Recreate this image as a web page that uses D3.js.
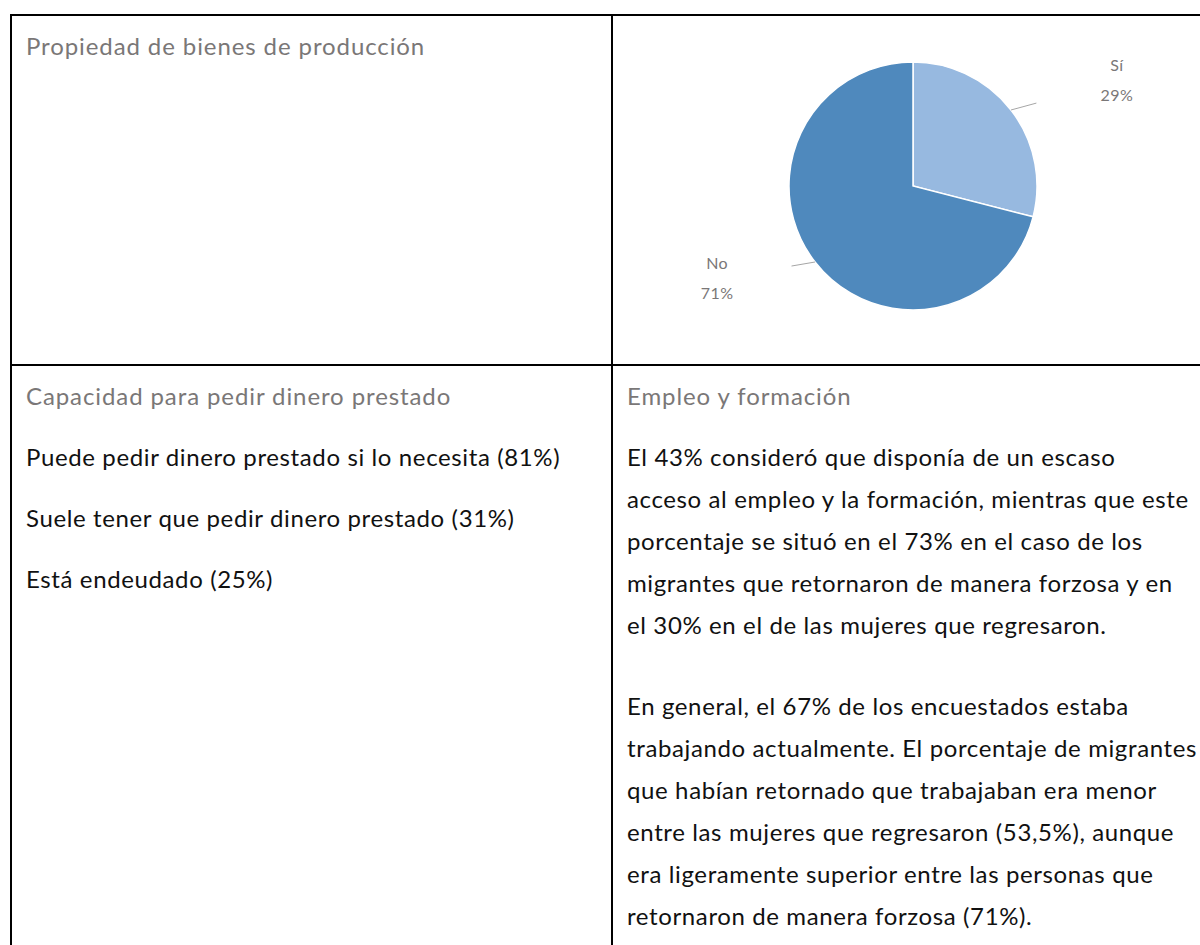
<!DOCTYPE html>
<html>
<head>
<meta charset="utf-8">
<script src="https://cdn.jsdelivr.net/npm/d3@7"></script>
<style>
  html, body { margin: 0; padding: 0; background: #fff; }
  svg { display: block; }
  text { font-family: Lato, "Open Sans", sans-serif; }
</style>
</head>
<body>
<div id="chart"></div>
<script>
// ---- Data
const pieLabels = ['Sí', 'No'];
const pieValues = [29, 71];
const pieColors = ['#97b9e0', '#4f89bd'];

const cellTitles = [
  'Propiedad de bienes de producción',
  'Capacidad para pedir dinero prestado',
  'Empleo y formación'
];

// each entry is a paragraph, each paragraph a list of lines
const borrowParagraphs = [
  ['Puede pedir dinero prestado si lo necesita (81%)'],
  ['Suele tener que pedir dinero prestado (31%)'],
  ['Está endeudado (25%)']
];

const employmentParagraphs = [
  [
    'El 43% consideró que disponía de un escaso',
    'acceso al empleo y la formación, mientras que este',
    'porcentaje se situó en el 73% en el caso de los',
    'migrantes que retornaron de manera forzosa y en',
    'el 30% en el de las mujeres que regresaron.'
  ],
  [
    'En general, el 67% de los encuestados estaba',
    'trabajando actualmente. El porcentaje de migrantes',
    'que habían retornado que trabajaban era menor',
    'entre las mujeres que regresaron (53,5%), aunque',
    'era ligeramente superior entre las personas que',
    'retornaron de manera forzosa (71%).'
  ]
];

// ---- Layout
const W = 1200, H = 945;
const gridX = [11, 612];       // left edge, column divider
const gridY = [15, 365];       // top edge, row divider
const padX = 15;
const titleOffset = 40;
const firstLineGap = 61;
const lineHeight = 42;

const svg = d3.select('#chart').append('svg')
  .attr('width', W).attr('height', H);

// ---- Table rules
const rules = svg.append('g').attr('stroke', '#000').attr('stroke-width', 2);
gridY.forEach(y => rules.append('line').attr('x1', gridX[0] - 1).attr('x2', W).attr('y1', y).attr('y2', y));
gridX.forEach(x => rules.append('line').attr('x1', x).attr('x2', x).attr('y1', gridY[0] - 1).attr('y2', H));

// ---- Cell text
function cell(x, top, title, paragraphs, paraStep) {
  const g = svg.append('g');
  let y = top + titleOffset;
  g.append('text')
    .attr('x', x).attr('y', y)
    .style('font-size', '24px')
    .style('letter-spacing', '0.9px')
    .style('fill', '#7a7777')
    .text(title);
  y += firstLineGap;
  (paragraphs || []).forEach((para, pi) => {
    if (pi > 0) y += paraStep;
    para.forEach((line, li) => {
      if (li > 0) y += lineHeight;
      g.append('text')
        .attr('x', x).attr('y', y)
        .style('font-size', '24px')
        .style('letter-spacing', '0.62px')
        .style('fill', '#111')
        .text(line);
    });
  });
}

cell(gridX[0] + padX, gridY[0], cellTitles[0], null, 0);
cell(gridX[0] + padX, gridY[1], cellTitles[1], borrowParagraphs, 61);
cell(gridX[1] + padX, gridY[1], cellTitles[2], employmentParagraphs, 81);

// ---- Pie
const cx = 913, cy = 186, radius = 124;
const labelRadius = 223, labelShift = 11.5 * Math.PI / 180;
const labelNudge = [4, -6];

const pie = d3.pie().sort(null).value(d => d)(pieValues);
const arc = d3.arc().innerRadius(0).outerRadius(radius);
const total = d3.sum(pieValues);

const pg = svg.append('g').attr('transform', `translate(${cx},${cy})`);

pg.selectAll('path').data(pie).join('path')
  .attr('d', arc)
  .attr('fill', (d, i) => pieColors[i])
  .attr('stroke', '#fff')
  .attr('stroke-width', 1.5);

const polar = (a, r) => [r * Math.sin(a), -r * Math.cos(a)];

pie.forEach((d, i) => {
  const mid = (d.startAngle + d.endAngle) / 2;
  const edge = polar(mid, radius);
  const p = polar(mid + labelShift, labelRadius);
  const anchor = [p[0] + labelNudge[0], p[1] + labelNudge[1]];
  const k = 0.24;
  const end = [edge[0] + (anchor[0] - edge[0]) * k, edge[1] + (anchor[1] - edge[1]) * k];

  pg.append('line')
    .attr('x1', edge[0]).attr('y1', edge[1])
    .attr('x2', end[0]).attr('y2', end[1])
    .attr('stroke', '#a6a6a6').attr('stroke-width', 1);

  const t = pg.append('text')
    .attr('text-anchor', 'middle')
    .style('font-size', '16px')
    .style('letter-spacing', '0.4px')
    .style('fill', '#7a7777');
  t.append('tspan').attr('x', anchor[0]).attr('y', anchor[1] - 10).text(pieLabels[i]);
  t.append('tspan').attr('x', anchor[0]).attr('y', anchor[1] + 20)
    .text(Math.round(d.value / total * 100) + '%');
});
</script>
</body>
</html>
